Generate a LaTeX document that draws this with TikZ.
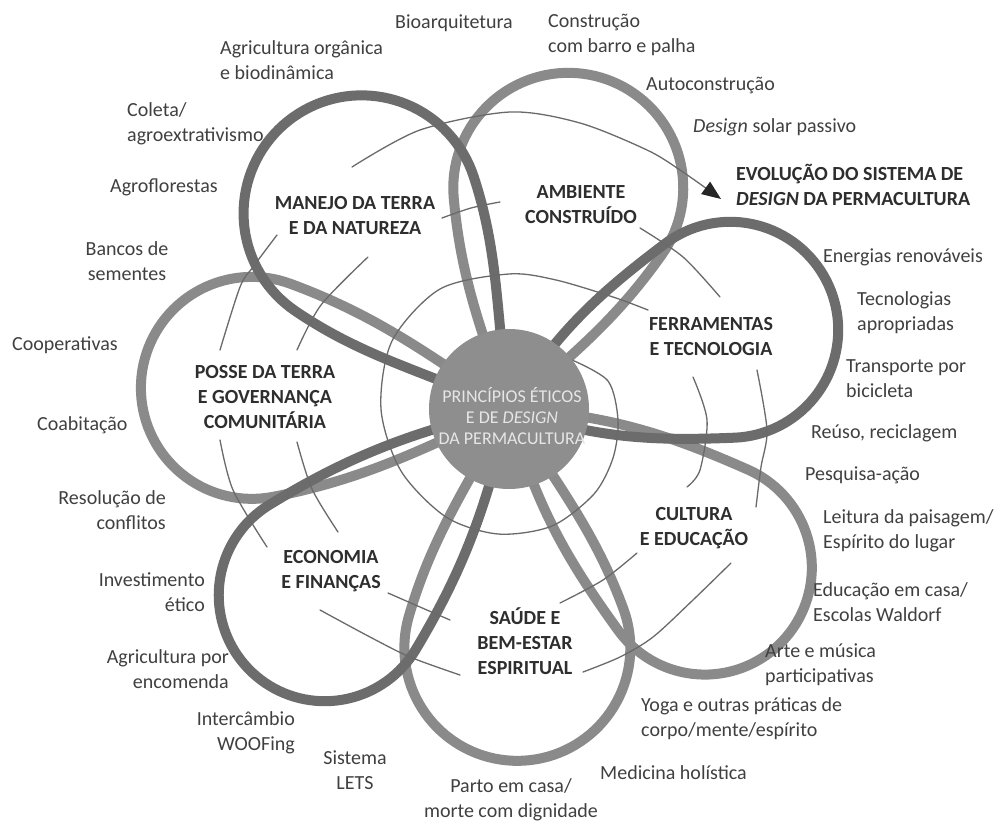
\documentclass[tikz,border=0pt]{standalone}
\usepackage{fontspec}
\setmainfont{Carlito}
\usetikzlibrary{arrows.meta}
\definecolor{petaldark}{HTML}{6C6C6C}
\definecolor{petallight}{HTML}{8A8A8A}
\definecolor{hub}{HTML}{8E8E8E}
\definecolor{hubtext}{HTML}{E6E6E6}
\definecolor{spiralc}{HTML}{6A6A6A}
\definecolor{labeltext}{HTML}{404040}
\definecolor{titletext}{HTML}{2E2E2E}
\tikzset{
  petal/.style={line width=10pt, line join=round},
  spiralline/.style={line width=1.3pt, draw=spiralc, line cap=round},
  lbl/.style={font=\fontsize{20}{25}\selectfont, text=labeltext, inner sep=0pt},
  ttl/.style={font=\fontsize{20}{25}\selectfont\bfseries, text=titletext, inner sep=0pt, align=center},
  hubtxt/.style={font=\fontsize{18}{21}\selectfont, text=hubtext, inner sep=0pt, align=center}
}
% petal: #1 axis angle (screen, clockwise), #2 distance of bulb centre, #3 bulb radius, #4 stem angle, #5 colour
\newcommand\petalshape[5]{%
  \pgfmathsetmacro\pcone{asin(#3/#2)}%
  \pgfmathsetmacro\pj{90+\pcone-10}%
  \pgfmathsetmacro\jx{#2+#3*cos(\pj)}%
  \pgfmathsetmacro\jy{#3*sin(\pj)}%
  \pgfmathsetmacro\jl{veclen(\jx,\jy)}%
  \pgfmathsetmacro\ax{0.4*\jl*cos(#4)}%
  \pgfmathsetmacro\ay{0.4*\jl*sin(#4)}%
  \pgfmathsetmacro\bx{\jx-0.35*\jl*sin(\pj)}%
  \pgfmathsetmacro\by{\jy+0.35*\jl*cos(\pj)}%
  \begin{scope}[shift={(509,409)}, rotate=-#1]
    \draw[petal, draw=#5] (0,0) .. controls (\ax,\ay) and (\bx,\by) .. (\jx,\jy)
      -- plot[domain=\pj:-\pj, samples=72, variable=\ang] ({#2+#3*cos(\ang)},{#3*sin(\ang)})
      -- (\jx,-\jy) .. controls (\bx,-\by) and (\ax,-\ay) .. cycle;
  \end{scope}}
\begin{document}
\begin{tikzpicture}[x=1pt, y=-1pt]
\fill[white] (0,0) rectangle (998,821);
\useasboundingbox (0,0) rectangle (998,821);

% petals (light ones first)
\petalshape{-75}{229}{115}{35}{petallight}   % ambiente construido
\petalshape{39}{252}{107}{36}{petallight}    % cultura e educacao
\petalshape{88}{239}{113}{31}{petallight}    % saude
\petalshape{184.7}{258}{111}{30}{petallight} % posse da terra
\petalshape{-127}{245}{118}{29}{petaldark}   % manejo da terra
\petalshape{-19.7}{235}{108}{39}{petaldark}  % ferramentas
\petalshape{134.7}{262}{106}{32}{petaldark}  % economia

% spiral of evolution
\draw[spiralline] plot[smooth] coordinates {(572,360) (608,381) (618,420) (613,458) (594,494) (552,526) (498,534) (446,517) (401,471) (381,409) (392,341) (440,289) (509,274) (556,280) (613,297) (648,310)};
\draw[spiralline] plot[smooth] coordinates {(693,377) (707,420) (700,470) (687,487)};
\draw[spiralline] plot[smooth] coordinates {(637,553) (603,580) (560,603)};
\draw[spiralline] plot[smooth] coordinates {(450,620) (420,607) (388,593)};
\draw[spiralline] plot[smooth] coordinates {(338,532) (312,489) (297,442)};
\draw[spiralline] plot[smooth] coordinates {(297,350) (321,305) (368,257)};
\draw[spiralline] plot[smooth] coordinates {(442,218) (471,208) (500,202)};
\draw[spiralline] plot[smooth] coordinates {(640,228) (683,257) (720,297)};
\draw[spiralline] plot[smooth] coordinates {(757,370) (767,430) (761,467) (756,507)};
\draw[spiralline] plot[smooth] coordinates {(731,563) (693,600) (653,637) (620,657) (583,672)};
\draw[spiralline] plot[smooth] coordinates {(460,675) (410,657) (370,637) (320,610)};
\draw[spiralline] plot[smooth] coordinates {(267,547) (233,490) (220,440)};
\draw[spiralline] plot[smooth] coordinates {(220,350) (240,287) (253,267) (277,235)};
\draw[spiralline, -{Triangle[length=19pt, width=15pt, color=black!85]}] plot[smooth] coordinates {(352,167) (420,130) (510,112) (580,123) (647,150) (680,170) (721,199)};

% hub
\node[circle, fill=hub, minimum size=160pt, inner sep=0pt] (hub) at (509,409) {};
\node[hubtxt] (hubtext) at (512,416) {PRINCÍPIOS ÉTICOS\\E DE \textit{DESIGN}\\DA PERMACULTURA};

% titles
\node[ttl] (manejo) at (355,216) {MANEJO DA TERRA\\E DA NATUREZA};
\node[ttl] (ambiente) at (581,205) {AMBIENTE\\CONSTRUÍDO};
\node[ttl] (ferramentas) at (711,337) {FERRAMENTAS\\E TECNOLOGIA};
\node[ttl] (cultura) at (694,528) {CULTURA\\E EDUCAÇÃO};
\node[ttl] (saude) at (525,641) {SAÚDE E\\BEM-ESTAR\\ESPIRITUAL};
\node[ttl] (economia) at (331,571) {ECONOMIA\\E FINANÇAS};
\node[ttl] (posse) at (265,397) {POSSE DA TERRA\\E GOVERNANÇA\\COMUNITÁRIA};
\node[ttl, anchor=west, align=left] (evolucao) at (736,185) {EVOLUÇÃO DO SISTEMA DE\\\textit{DESIGN} DA PERMACULTURA};

% labels
\node[lbl, anchor=west] (bioarq) at (395,23) {Bioarquitetura};
\node[lbl, anchor=west, align=left] (barro) at (548,35) {Construção\\com barro e palha};
\node[lbl, anchor=west, align=left] (agric) at (220,60) {Agricultura orgânica\\e biodinâmica};
\node[lbl, anchor=west] (autocons) at (646,86) {Autoconstrução};
\node[lbl, anchor=west] (solar) at (693,127) {\textit{Design} solar passivo};
\node[lbl, anchor=west, align=left] (coleta) at (127,124) {Coleta/\\agroextrativismo};
\node[lbl, anchor=west] (agroflor) at (110,187) {Agroflorestas};
\node[lbl, align=center] (bancos) at (127,261) {Bancos de\\sementes};
\node[lbl, anchor=west] (coop) at (12,345) {Cooperativas};
\node[lbl, anchor=west] (coabit) at (37,425) {Coabitação};
\node[lbl, anchor=east, align=right] (resol) at (166,510) {Resolução de\\conflitos};
\node[lbl, anchor=east, align=right] (invest) at (205,592) {Investimento\\ético};
\node[lbl, anchor=east, align=right] (agrenc) at (229,669) {Agricultura por\\encomenda};
\node[lbl, anchor=east, align=right] (interc) at (295,733) {Intercâmbio\\WOOFing};
\node[lbl, align=center] (lets) at (355,770) {Sistema\\LETS};
\node[lbl, align=center] (parto) at (511,800) {Parto em casa/\\morte com dignidade};
\node[lbl, anchor=west] (medic) at (600,773) {Medicina holística};
\node[lbl, anchor=west, align=left] (yoga) at (641,719) {Yoga e outras práticas de\\corpo/mente/espírito};
\node[lbl, anchor=west, align=left] (arte) at (765,665) {Arte e música\\participativas};
\node[lbl, anchor=west, align=left] (educ) at (813,602) {Educação em casa/\\Escolas Waldorf};
\node[lbl, anchor=west, align=left] (leitura) at (823,531) {Leitura da paisagem/\\Espírito do lugar};
\node[lbl, anchor=west] (pesq) at (805,475) {Pesquisa-ação};
\node[lbl, anchor=west] (reuso) at (811,433) {Reúso, reciclagem};
\node[lbl, anchor=west, align=left] (transp) at (846,379) {Transporte por\\bicicleta};
\node[lbl, anchor=west, align=left] (tecno) at (857,313) {Tecnologias\\apropriadas};
\node[lbl, anchor=west] (energ) at (823,257) {Energias renováveis};
\end{tikzpicture}
\end{document}
